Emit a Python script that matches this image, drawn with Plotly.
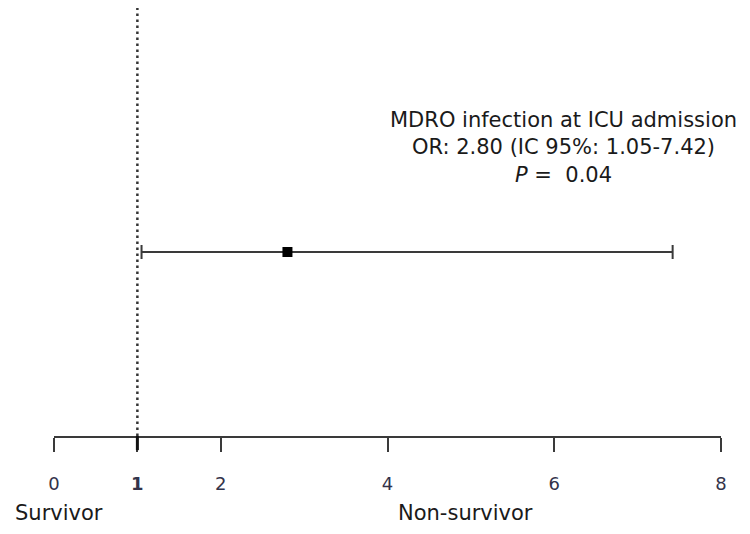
import plotly.graph_objects as go

# Data
labels = ["MDRO infection at ICU admission"]
odds_ratio = [2.80]
ci_low = [1.05]
ci_high = [7.42]
p_values = ["0.04"]
null_value = 1
tick_vals = [0, 1, 2, 4, 6, 8]
tick_text = ["0", "<b>1</b>", "2", "4", "6", "8"]
side_labels = ["Survivor", "Non-survivor"]
side_label_x = [0.054, 4.94]

FONT = "DejaVu Sans"

fig = go.Figure()

fig.add_trace(go.Scatter(
    x=odds_ratio,
    y=[0],
    mode="markers",
    marker=dict(symbol="square", size=10, color="black"),
    error_x=dict(
        type="data", symmetric=False,
        array=[h - o for h, o in zip(ci_high, odds_ratio)],
        arrayminus=[o - l for o, l in zip(odds_ratio, ci_low)],
        color="#3a3a3a", thickness=2, width=7,
    ),
    showlegend=False,
    hoverinfo="skip",
))

# reference line at OR = 1
fig.add_shape(type="line", xref="x", yref="paper",
              x0=null_value, x1=null_value, y0=0, y1=1.05,
              line=dict(color="#333333", width=2.5, dash="2.5px,3.5px"))
# bold tick at 1
fig.add_shape(type="line", xref="x", yref="paper",
              x0=null_value, x1=null_value, y0=0, y1=-0.033,
              line=dict(color="#111111", width=3))

annot_text = (f"{labels[0]}<br>OR: {odds_ratio[0]:.2f} (IC 95%: {ci_low[0]:.2f}-{ci_high[0]:.2f})"
              f"<br><i>P</i> =  {p_values[0]}")
fig.add_annotation(x=6.11, y=0.675, xref="x", yref="paper",
                   text=annot_text, showarrow=False, xanchor="center", yanchor="middle",
                   font=dict(family=FONT, size=21, color="#1a1a1a"))

for lab, lx in zip(side_labels, side_label_x):
    fig.add_annotation(x=lx, y=-0.180, xref="x", yref="paper", text=lab,
                       showarrow=False, xanchor="center", yanchor="middle",
                       font=dict(family=FONT, size=21, color="#1a1a1a"))

fig.update_xaxes(
    range=[0, 8], tickvals=tick_vals, ticktext=tick_text,
    showgrid=False, zeroline=False,
    showline=True, linecolor="#3a3a3a", linewidth=2,
    ticks="outside", ticklen=14, tickwidth=2, tickcolor="#3a3a3a",
    tickfont=dict(family=FONT, size=18, color="#33334a"),
    ticklabelstandoff=16,
)
fig.update_yaxes(range=[-0.754, 1], visible=False, showgrid=False, zeroline=False)

fig.update_layout(
    width=750, height=534,
    margin=dict(l=46, r=37, t=0, b=106),
    plot_bgcolor="white", paper_bgcolor="white",
)

fig.write_html("out.html")
